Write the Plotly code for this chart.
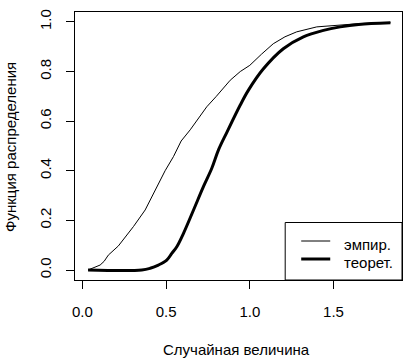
import plotly.graph_objects as go

emp_x = [0.034, 0.06, 0.106, 0.13, 0.155, 0.215, 0.26, 0.305, 0.375, 0.435, 0.494, 0.544,
         0.59, 0.644, 0.70, 0.743, 0.80, 0.843, 0.883, 0.943, 1.0, 1.07, 1.14, 1.21, 1.28,
         1.40, 1.54, 1.65, 1.84]
emp_y = [0.0, 0.008, 0.02, 0.035, 0.06, 0.097, 0.135, 0.175, 0.242, 0.32, 0.40, 0.457,
         0.52, 0.565, 0.615, 0.658, 0.70, 0.733, 0.765, 0.80, 0.825, 0.87, 0.912, 0.94, 0.96,
         0.98, 0.987, 0.993, 0.998]

# Theoretical CDF
theo_x = [0.034, 0.355, 0.405, 0.454, 0.504, 0.534, 0.564, 0.604, 0.664, 0.723, 0.773,
          0.813, 0.863, 0.943, 0.992, 1.08, 1.20, 1.32, 1.44, 1.54, 1.65, 1.84]
theo_y = [0.0, 0.0, 0.007, 0.02, 0.04, 0.067, 0.094, 0.148, 0.242, 0.336, 0.41,
          0.484, 0.555, 0.665, 0.725, 0.81, 0.892, 0.94, 0.966, 0.98, 0.99, 0.997]

x_ticks = [0.0, 0.5, 1.0, 1.5]
x_ticklabels = ["0.0", "0.5", "1.0", "1.5"]
y_ticks = [0.0, 0.2, 0.4, 0.6, 0.8, 1.0]
y_ticklabels = ["0.0", "0.2", "0.4", "0.6", "0.8", "1.0"]

legend_labels = ["эмпир.", "теорет."]
x_title = "Случайная величина"
y_title = "Функция распределения"

FONT = "Liberation Sans, Arial, sans-serif"
FS = 15

fig = go.Figure()
fig.add_trace(go.Scatter(x=emp_x, y=emp_y, mode="lines", name=legend_labels[0],
                         line=dict(color="black", width=1), showlegend=False))
fig.add_trace(go.Scatter(x=theo_x, y=theo_y, mode="lines", name=legend_labels[1],
                         line=dict(color="black", width=3, shape="spline"), showlegend=False))

# body margin is removed by post_script, so the figure fills the window from (0, 0)
W, H = 416, 363
PL, PR, PT, PB = 75, 401.7, 12, 280  # plot box in window pixels
L, R, T, B = PL, W - PR, PT, H - PB
pw, ph = PR - PL, PB - PT

def px_x(p):
    return (p - PL) / pw

def px_y(p):
    return (PB - p) / ph

fig.update_layout(
    width=W, height=H,
    margin=dict(l=L, r=R, t=T, b=B, autoexpand=False),
    plot_bgcolor="white", paper_bgcolor="white",
    font=dict(family=FONT, size=FS, color="black"),
    hovermode=False,
    xaxis=dict(range=[-0.044, 1.909], tickvals=x_ticks, ticktext=x_ticklabels,
               ticks="outside", ticklen=8, tickcolor="black", showgrid=False,
               zeroline=False, showline=True, linecolor="black", linewidth=1, mirror=True,
               ticklabelstandoff=10, automargin=False),
    yaxis=dict(range=[-0.0403, 1.040], tickvals=y_ticks, ticktext=y_ticklabels,
               ticks="outside", ticklen=8, tickcolor="black", showgrid=False,
               zeroline=False, showline=True, linecolor="black", linewidth=1, mirror=True,
               tickangle=-90, ticklabelstandoff=9, automargin=False),
)

annotations = [
    dict(text=x_title, x=px_x(236.5), y=px_y(349), xref="paper", yref="paper",
         showarrow=False, xanchor="center", yanchor="middle", font=dict(size=FS)),
    dict(text=y_title, x=px_x(10), y=px_y(147), xref="paper", yref="paper",
         showarrow=False, xanchor="center", yanchor="middle", textangle=-90, font=dict(size=FS)),
    dict(text=legend_labels[0], x=px_x(342), y=px_y(244), xref="paper", yref="paper",
         showarrow=False, xanchor="left", yanchor="middle", font=dict(size=FS)),
    dict(text=legend_labels[1], x=px_x(342), y=px_y(262), xref="paper", yref="paper",
         showarrow=False, xanchor="left", yanchor="middle", font=dict(size=FS)),
]
fig.update_layout(annotations=annotations)

shapes = [
    dict(type="rect", xref="paper", yref="paper", x0=px_x(285), x1=1, y0=0, y1=px_y(222.5),
         line=dict(color="black", width=1), fillcolor="white", layer="above"),
    dict(type="line", xref="paper", yref="paper", x0=px_x(301), x1=px_x(330),
         y0=px_y(241), y1=px_y(241), line=dict(color="black", width=1)),
    dict(type="line", xref="paper", yref="paper", x0=px_x(301), x1=px_x(330),
         y0=px_y(259), y1=px_y(259), line=dict(color="black", width=3)),
]
fig.update_layout(shapes=shapes)

fig.write_html("out.html",
               config={"displayModeBar": False, "staticPlot": True},
               post_script="document.body.style.margin='0';document.body.style.overflow='hidden';")
